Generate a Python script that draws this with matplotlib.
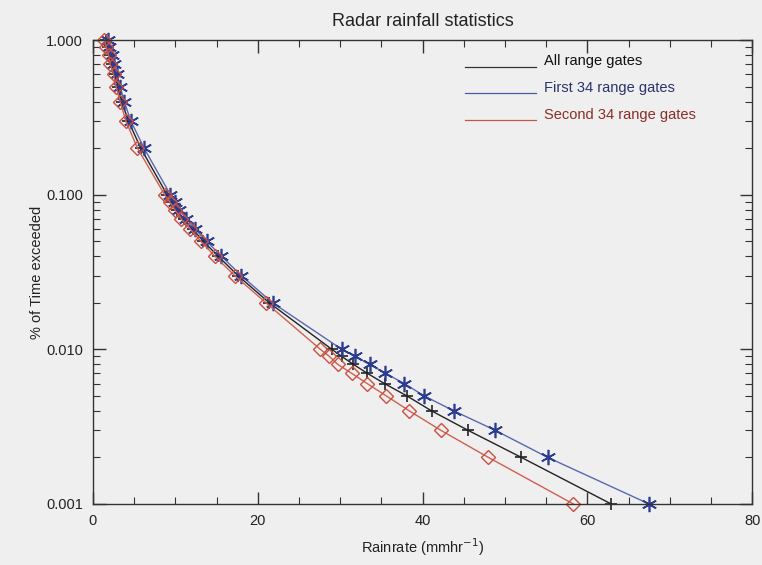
import matplotlib
matplotlib.use('Agg')
import matplotlib.pyplot as plt
from matplotlib.ticker import FixedLocator, MultipleLocator, LogLocator, NullFormatter

plt.rcParams['font.family'] = ['Liberation Sans', 'DejaVu Sans']

# exceedance levels (% of time)
levels = [1.0, 0.9, 0.8, 0.7, 0.6, 0.5, 0.4, 0.3, 0.2,
          0.1, 0.09, 0.08, 0.07, 0.06, 0.05, 0.04, 0.03, 0.02,
          0.01, 0.009, 0.008, 0.007, 0.006, 0.005, 0.004, 0.003, 0.002, 0.001]

# rainrate (mm/hr) per level
rain_all = [1.6, 1.8, 2.1, 2.3, 2.7, 3.0, 3.5, 4.3, 5.8,
            9.0, 9.6, 10.2, 11.0, 12.1, 13.4, 15.2, 17.6, 21.4,
            29.0, 30.2, 31.6, 33.3, 35.4, 38.1, 41.1, 45.5, 52.0, 62.9]
rain_first = [1.8, 2.0, 2.3, 2.5, 2.9, 3.3, 3.8, 4.6, 6.2,
              9.4, 10.0, 10.5, 11.3, 12.4, 13.8, 15.6, 18.0, 21.8,
              30.2, 31.8, 33.6, 35.5, 37.8, 40.2, 43.8, 48.8, 55.2, 67.5]
rain_second = [1.4, 1.6, 1.9, 2.1, 2.5, 2.8, 3.3, 4.0, 5.4,
               8.7, 9.3, 9.95, 10.7, 11.8, 13.1, 14.8, 17.2, 21.0,
               27.6, 28.7, 29.7, 31.4, 33.3, 35.6, 38.4, 42.2, 48.0, 58.3]

labels = ['All range gates', 'First 34 range gates', 'Second 34 range gates']
bg = '#efefef'

fig = plt.figure(figsize=(7.62, 5.65), dpi=100, facecolor=bg)
ax = fig.add_axes([0.122, 0.108, 0.865, 0.821], facecolor=bg)

ax.plot(rain_all, levels, color='#222222', lw=1.0, marker='+', ms=9, mew=1.2, clip_on=False)
ax.plot(rain_first, levels, color='#5868b0', lw=1.0, clip_on=False)
ax.plot(rain_first, levels, ls='none', color='#2c3c90', marker=(6, 2, 0), ms=11, mew=1.2, clip_on=False)
ax.plot(rain_second, levels, color='#d0604f', lw=1.0, marker='D', ms=7, mfc='none',
        mec='#cc5040', mew=1.0, clip_on=False)

ax.set_yscale('log')
ax.set_xlim(0, 80)
ax.set_ylim(0.001, 1.0)

ax.xaxis.set_major_locator(MultipleLocator(20))
ax.xaxis.set_minor_locator(MultipleLocator(5))
ax.yaxis.set_major_locator(FixedLocator([0.001, 0.01, 0.1, 1.0]))
ax.yaxis.set_minor_locator(LogLocator(base=10, subs=range(2, 10)))
ax.yaxis.set_minor_formatter(NullFormatter())
ax.set_yticklabels(['0.001', '0.010', '0.100', '1.000'])

ax.tick_params(which='both', direction='in', top=True, right=True, color='#333333',
               labelsize=10.5, labelcolor='#222222')
ax.tick_params(which='major', length=9, width=1.0, pad=7)
ax.tick_params(which='minor', length=5, width=0.8)
for s in ax.spines.values():
    s.set_color('#333333')
    s.set_linewidth(1.0)

ax.set_title('Radar rainfall statistics', fontsize=13, color='#222222', pad=10)
ax.set_xlabel('Rainrate (mmhr$^{-1}$)', fontsize=10.5, color='#222222', labelpad=6)
ax.set_ylabel('% of Time exceeded', fontsize=10.5, color='#222222', labelpad=2)

# legend drawn as lines + coloured text, IDL style
leg_cols = ['#333333', '#4858a8', '#c05848']
txt_cols = ['#111111', '#2a3468', '#8a2e28']
for i, (lab, lc, tc) in enumerate(zip(labels, leg_cols, txt_cols)):
    yy = 0.955 - i * 0.058
    ax.plot([0.565, 0.672], [yy - 0.012, yy - 0.012], transform=ax.transAxes, color=lc, lw=0.9)
    ax.text(0.685, yy, lab, transform=ax.transAxes, color=tc, fontsize=10.5, va='center')

fig.savefig('out.png', dpi=100, facecolor=bg)
